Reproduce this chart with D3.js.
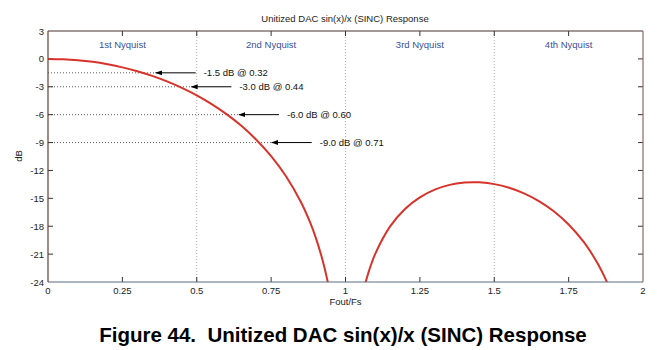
<!DOCTYPE html>
<html><head><meta charset="utf-8">
<script src="https://cdn.jsdelivr.net/npm/d3@7"></script>
<style>body{margin:0;background:#fff}svg{display:block}</style>
</head><body>
<svg id="c" width="658" height="350"></svg>
<script>
// Main lobe (Fout/Fs, dB)
const lobe1X = [0,0.05,0.1,0.15,0.2,0.25,0.3,0.35,0.4,0.45,0.5,0.55,0.6,0.65,0.7,0.75,0.8,0.85,0.88,0.9,0.92,0.93,0.94,0.945];
const lobe1Y = [0,-0.04,-0.14,-0.32,-0.58,-0.91,-1.33,-1.83,-2.42,-3.12,-3.92,-4.86,-5.94,-7.2,-8.69,-10.45,-12.62,-15.39,-17.51,-19.23,-21.31,-22.54,-23.95,-24.75];
// Second lobe
const lobe2X = [1.06,1.065,1.07,1.08,1.1,1.15,1.2,1.25,1.3,1.35,1.4,1.43,1.45,1.5,1.55,1.6,1.65,1.7,1.75,1.8,1.83,1.85,1.87,1.88];
const lobe2Y = [-24.99,-24.35,-23.76,-22.7,-20.97,-18.02,-16.14,-14.89,-14.06,-13.55,-13.3,-13.26,-13.28,-13.47,-13.86,-14.46,-15.3,-16.39,-17.81,-19.66,-21.06,-22.15,-23.4,-24.11];
const xTicks = [0,0.25,0.5,0.75,1,1.25,1.5,1.75,2];
const yTicks = [3,0,-3,-6,-9,-12,-15,-18,-21,-24];
const gridX = [0.5,1,1.5];
const zoneLabels = ["1st Nyquist","2nd Nyquist","3rd Nyquist","4th Nyquist"];
const zoneCenters = [0.25,0.75,1.25,1.75];
const markDb = [-1.5,-3.0,-6.0,-9.0];
const markF = [0.32,0.44,0.60,0.71];
const markText = ["-1.5 dB @ 0.32","-3.0 dB @ 0.44","-6.0 dB @ 0.60","-9.0 dB @ 0.71"];

const svg = d3.select("#c");
const L=48,R=643,T=31,B=282;
const x = d3.scaleLinear().domain([0,2]).range([L,R]);
const y = d3.scaleLinear().domain([-24,3]).range([B,T]);
const font = "Arial, 'Liberation Sans', sans-serif";

const defs = svg.append("defs");
defs.append("clipPath").attr("id","clip").append("rect").attr("x",L).attr("y",T).attr("width",R-L).attr("height",B-T);
defs.append("marker").attr("id","arr").attr("viewBox","0 0 10 10").attr("refX",9).attr("refY",5)
  .attr("markerWidth",7).attr("markerHeight",7).attr("orient","auto-start-reverse")
  .append("path").attr("d","M0,1.5L10,5L0,8.5Z").attr("fill","#000");

// title
svg.append("text").attr("x",345).attr("y",22).attr("text-anchor","middle")
  .attr("font-family",font).attr("font-size",9.5).attr("fill","#222").text("Unitized DAC sin(x)/x (SINC) Response");

// vertical grid
svg.selectAll(".gx").data(gridX).enter().append("line")
  .attr("x1",d=>x(d)).attr("x2",d=>x(d)).attr("y1",T).attr("y2",B)
  .attr("stroke","#9a9a9a").attr("stroke-width",0.8).attr("stroke-dasharray","1,2");

// horizontal marker dotted lines (end at arrow tips, slightly right of the point)
const tipOff = 12.5;
const mg = svg.append("g");
markDb.forEach((d,i)=>{
  const tipX = x(markF[i]) + tipOff;
  mg.append("line").attr("x1",L).attr("x2",tipX).attr("y1",y(d)).attr("y2",y(d))
    .attr("stroke","#333").attr("stroke-width",0.8).attr("stroke-dasharray","1,2");
});

// ticks inside
const tg = svg.append("g").attr("stroke","#333").attr("stroke-width",1);
xTicks.slice(1,-1).forEach(t=>{
  tg.append("line").attr("x1",x(t)).attr("x2",x(t)).attr("y1",B).attr("y2",B-5);
  tg.append("line").attr("x1",x(t)).attr("x2",x(t)).attr("y1",T).attr("y2",T+5);
});
yTicks.slice(1,-1).forEach(t=>{
  tg.append("line").attr("x1",L).attr("x2",L+5).attr("y1",y(t)).attr("y2",y(t));
  tg.append("line").attr("x1",R).attr("x2",R-5).attr("y1",y(t)).attr("y2",y(t));
});

// curves
const line = d3.line().x(d=>x(d[0])).y(d=>y(d[1])).curve(d3.curveCatmullRom);
const cg = svg.append("g").attr("clip-path","url(#clip)");
cg.append("path").datum(d3.zip(lobe1X,lobe1Y)).attr("d",line).attr("fill","none").attr("stroke","#d8332a").attr("stroke-width",2);
cg.append("path").datum(d3.zip(lobe2X,lobe2Y)).attr("d",line).attr("fill","none").attr("stroke","#d8332a").attr("stroke-width",2);

// frame
svg.append("line").attr("x1",L).attr("x2",R).attr("y1",T).attr("y2",T).attr("stroke","#4a3030").attr("stroke-width",1.2);
svg.append("line").attr("x1",R).attr("x2",R).attr("y1",T).attr("y2",B).attr("stroke","#8a6a68").attr("stroke-width",1.2);
svg.append("line").attr("x1",L).attr("x2",R).attr("y1",B).attr("y2",B).attr("stroke","#5a6a80").attr("stroke-width",1.2);
svg.append("line").attr("x1",L).attr("x2",L).attr("y1",T).attr("y2",B).attr("stroke","#6a3a30").attr("stroke-width",1.2);

// arrows + labels
markDb.forEach((d,i)=>{
  const tipX = x(markF[i]) + tipOff;
  mg.append("line").attr("x1",tipX+40).attr("x2",tipX).attr("y1",y(d)).attr("y2",y(d))
    .attr("stroke","#000").attr("stroke-width",1).attr("marker-end","url(#arr)");
  svg.append("text").attr("x",tipX+48).attr("y",y(d)+3.5).attr("font-family",font).attr("font-size",9.5)
    .attr("fill","#111").text(markText[i]);
});

// zone labels
svg.selectAll(".zl").data(zoneLabels).enter().append("text")
  .attr("x",(d,i)=>x(zoneCenters[i])).attr("y",48).attr("text-anchor","middle")
  .attr("font-family",font).attr("font-size",9.5).attr("fill","#3a4f9a").text(d=>d);

// tick labels
svg.selectAll(".xl").data(xTicks).enter().append("text")
  .attr("x",d=>x(d)).attr("y",B+12).attr("text-anchor","middle")
  .attr("font-family",font).attr("font-size",9.5).attr("fill","#222").text(d=>d);
svg.selectAll(".yl").data(yTicks).enter().append("text")
  .attr("x",L-4).attr("y",d=>y(d)+3.5).attr("text-anchor","end")
  .attr("font-family",font).attr("font-size",9.5).attr("fill","#222").text(d=>d);

// axis titles
svg.append("text").attr("x",x(1)).attr("y",B+23).attr("text-anchor","middle")
  .attr("font-family",font).attr("font-size",9.5).attr("fill","#222").text("Fout/Fs");
svg.append("text").attr("transform","translate(22,156) rotate(-90)").attr("text-anchor","middle")
  .attr("font-family",font).attr("font-size",9.5).attr("fill","#222").text("dB");

// caption
svg.append("text").attr("x",343).attr("y",342).attr("text-anchor","middle")
  .attr("font-family",font).attr("font-size",20.5).attr("font-weight","bold").attr("fill","#000")
  .style("white-space","pre")
  .text("Figure 44.  Unitized DAC sin(x)/x (SINC) Response");
</script>
</body></html>
